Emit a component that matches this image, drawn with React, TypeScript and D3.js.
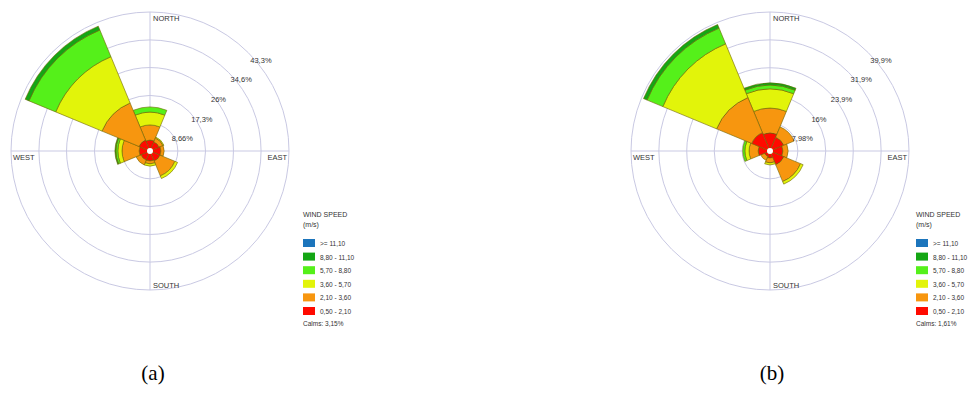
import React from "react";
import * as d3 from "d3";

const directions = ["N", "NE", "E", "SE", "S", "SW", "W", "NW"];
const directionLabels = ["NORTH", "EAST", "SOUTH", "WEST"];
const binLabels = [">= 11,10", "8,80 - 11,10", "5,70 - 8,80", "3,60 - 5,70", "2,10 - 3,60", "0,50 - 2,10"];
const binColors = ["#1c75bc", "#14a614", "#55f01a", "#e2f40a", "#f7960f", "#ff0a00"];

// (a) frequencies (%) per speed bin, per direction (N..NW), lowest bin first
const a_050_210 = [3.4, 3.1, 3.4, 3.4, 3.1, 3.1, 3.4, 3.7];
const a_210_360 = [4.7, 1.3, 1.0, 5.0, 0.9, 1.6, 5.3, 12.5];
const a_360_570 = [4.0, 0.3, 0, 0.9, 0.7, 0, 1.3, 15.6];
const a_570_880 = [1.6, 0, 0, 0, 0, 0, 0.6, 9.0];
const a_880_1110 = [0, 0, 0, 0, 0, 0, 0.3, 1.3];
const a_ge1110 = [0, 0, 0, 0, 0, 0, 0, 0];
const aRingTicks = [8.66, 17.3, 26, 34.6, 43.3];
const aRingLabels = ["8,66%", "17,3%", "26%", "34,6%", "43,3%"];
const aCalms = "Calms: 3,15%";

// (b)
const b_050_210 = [5.2, 4.3, 3.7, 4.3, 2.0, 1.7, 3.4, 5.7];
const b_210_360 = [7.1, 3.2, 1.5, 5.2, 1.4, 1.2, 2.6, 10.9];
const b_360_570 = [5.5, 0, 0, 0.8, 0.6, 0, 1.2, 16.7];
const b_570_880 = [1.1, 0, 0, 0, 0, 0, 0.6, 4.9];
const b_880_1110 = [0.6, 0, 0, 0, 0, 0, 0, 1.1];
const b_ge1110 = [0, 0, 0, 0, 0, 0, 0, 0];
const bRingTicks = [7.98, 16, 23.9, 31.9, 39.9];
const bRingLabels = ["7,98%", "16%", "23,9%", "31,9%", "39,9%"];
const bCalms = "Calms: 1,61%";

const FONT = "'Liberation Sans', Arial, sans-serif";
const GRID = "#c9c9e3";
const R = 139;

type RoseProps = {
  cx: number;
  cy: number;
  bins: number[][]; // lowest first
  ticks: number[];
  tickLabels: string[];
  legendX: number;
  calms: string;
  caption: string;
  captionX: number;
};

function Rose({ cx, cy, bins, ticks, tickLabels, legendX, calms, caption, captionX }: RoseProps) {
  const rScale = d3.scaleLinear().domain([0, ticks[ticks.length - 1]]).range([0, R]);
  const arc = d3.arc<any>();
  const step = (2 * Math.PI) / directions.length;
  const sectors: { d: string; fill: string; key: string }[] = [];
  directions.forEach((dir, i) => {
    let cum = 0;
    bins.forEach((vals, b) => {
      const v = vals[i];
      if (v <= 0) return;
      const inner = cum;
      cum += v;
      const d = arc({
        innerRadius: rScale(inner),
        outerRadius: rScale(cum),
        startAngle: i * step - step / 2,
        endAngle: i * step + step / 2,
      }) as string;
      sectors.push({ d, fill: binColors[binColors.length - 1 - b], key: dir + b });
    });
  });
  const c45 = Math.SQRT1_2;
  return (
    <g>
      <g transform={`translate(${cx},${cy})`}>
        {ticks.map((t) => (
          <circle key={t} r={rScale(t)} fill="none" stroke={GRID} strokeWidth={1} />
        ))}
        <line x1={0} x2={0} y1={-R} y2={R} stroke={GRID} strokeWidth={1} />
        <line x1={-R} x2={R} y1={0} y2={0} stroke={GRID} strokeWidth={1} />
        {sectors.map((s) => (
          <path key={s.key} d={s.d} fill={s.fill} stroke="#6e6400" strokeWidth={0.6} strokeLinejoin="round" />
        ))}
        <circle r={3} fill="#fff" />
        {ticks.map((t, i) => (
          <text
            key={"l" + t}
            x={rScale(t) * c45 + 2}
            y={-rScale(t) * c45 + 10}
            fontSize={7.5}
            fontFamily={FONT}
            fill="#333"
          >
            {tickLabels[i]}
          </text>
        ))}
        <text x={3} y={-130} fontSize={7.5} fontFamily={FONT} fill="#333">{directionLabels[0]}</text>
        <text x={137} y={9} fontSize={7.5} fontFamily={FONT} fill="#333" textAnchor="end">{directionLabels[1]}</text>
        <text x={3} y={137} fontSize={7.5} fontFamily={FONT} fill="#333">{directionLabels[2]}</text>
        <text x={-137} y={9} fontSize={7.5} fontFamily={FONT} fill="#333">{directionLabels[3]}</text>
      </g>
      <g transform={`translate(${legendX},0)`} fontFamily={FONT} fill="#333">
        <text x={0} y={217} fontSize={7}>WIND SPEED</text>
        <text x={0} y={227} fontSize={7}>(m/s)</text>
        {binLabels.map((lab, i) => (
          <g key={lab}>
            <rect x={0} y={239 + i * 13.6} width={12} height={8} fill={binColors[i]} />
            <text x={17} y={239 + i * 13.6 + 7} fontSize={6.5}>{lab}</text>
          </g>
        ))}
        <text x={0} y={326} fontSize={6.5}>{calms}</text>
      </g>
      <text x={captionX} y={380} fontSize={21} fontFamily="'Liberation Serif', 'Times New Roman', serif" textAnchor="middle" fill="#000">
        {caption}
      </text>
    </g>
  );
}

export default function App() {
  const binsA = [a_050_210, a_210_360, a_360_570, a_570_880, a_880_1110, a_ge1110];
  const binsB = [b_050_210, b_210_360, b_360_570, b_570_880, b_880_1110, b_ge1110];
  return (
    <svg width={977} height={403} style={{ position: "absolute", left: 0, top: 0, background: "#fff" }}>
      <rect width={977} height={403} fill="#fff" />
      <Rose cx={150} cy={151} bins={binsA} ticks={aRingTicks} tickLabels={aRingLabels} legendX={303} calms={aCalms} caption="(a)" captionX={153} />
      <Rose cx={770} cy={151} bins={binsB} ticks={bRingTicks} tickLabels={bRingLabels} legendX={916} calms={bCalms} caption="(b)" captionX={772} />
    </svg>
  );
}
